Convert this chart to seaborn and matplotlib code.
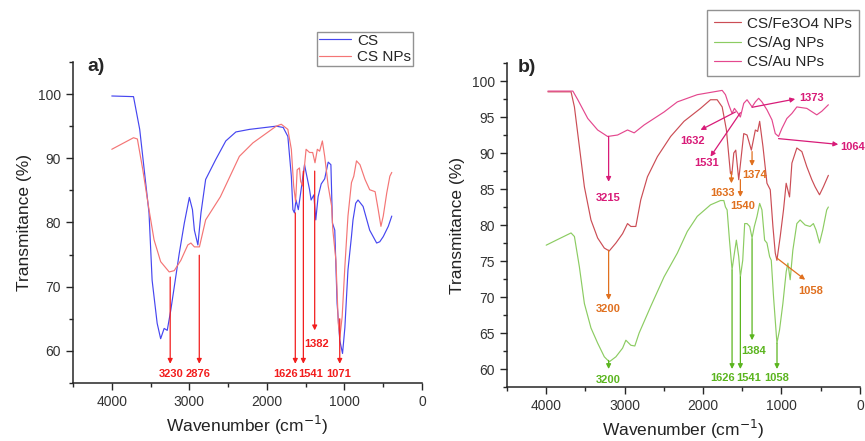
import numpy as np
import pandas as pd
import seaborn as sns
import matplotlib.pyplot as plt
from matplotlib.ticker import MultipleLocator

sns.set_style('ticks')
plt.rcParams['font.family'] = ['Liberation Sans', 'DejaVu Sans']

# ---- panel a data (wavenumber cm-1, transmittance %) ----
cs_wn = [4000, 3720, 3640, 3520, 3480, 3415, 3370, 3325, 3285, 3240, 3130, 3065, 3000, 2960,
         2935, 2890, 2850, 2790, 2660, 2530, 2400, 2225, 1880, 1790, 1730, 1685, 1665, 1645,
         1625, 1595, 1565, 1515, 1485, 1450, 1430, 1395, 1370, 1340, 1300, 1255, 1210, 1175,
         1155, 1125, 1095, 1060, 1025, 995, 955, 910, 890, 855, 825, 760, 675, 585, 545, 500,
         435, 390]
cs_t = [99.7, 99.6, 94.5, 81.5, 71.0, 64.3, 61.9, 63.5, 63.2, 66.3, 75.2, 79.9, 83.9, 82.0,
        78.8, 76.5, 81.5, 86.7, 89.8, 92.7, 94.1, 94.5, 95.0, 94.8, 93.4, 87.2, 82.0, 81.5,
        83.5, 82.0, 84.6, 89.0, 87.2, 85.1, 83.5, 84.3, 80.4, 84.0, 86.0, 86.8, 89.4, 89.0,
        79.9, 78.8, 67.4, 61.6, 59.6, 63.6, 72.6, 77.8, 80.4, 83.0, 83.5, 82.5, 78.8, 76.8,
        77.0, 77.8, 79.4, 81.0]

csnp_wn = [4000, 3720, 3670, 3600, 3520, 3455, 3370, 3260, 3195, 3110, 3020, 2980, 2935, 2870,
           2790, 2600, 2355, 2180, 1880, 1815, 1730, 1685, 1655, 1630, 1610, 1580, 1565, 1540,
           1495, 1450, 1410, 1380, 1350, 1320, 1285, 1255, 1210, 1165, 1150, 1110, 1080, 1060,
           1030, 995, 955, 910, 880, 845, 800, 735, 675, 605, 565, 530, 500, 455, 415, 390]
csnp_t = [91.4, 93.2, 93.0, 88.2, 82.0, 77.3, 73.9, 72.3, 72.5, 74.1, 76.5, 76.8, 76.2, 76.2,
          80.4, 84.0, 90.3, 92.4, 95.0, 95.3, 94.5, 91.4, 85.7, 83.2, 88.2, 88.5, 86.4, 85.7,
          91.4, 90.9, 90.9, 89.3, 91.4, 91.1, 92.7, 90.3, 85.7, 82.5, 78.8, 74.1, 64.3, 62.1,
          65.3, 73.1, 81.0, 86.2, 87.2, 89.6, 89.0, 86.7, 85.1, 84.8, 82.0, 79.4, 81.0, 84.6,
          87.2, 87.8]

# ---- panel b data ----
fe_wn = [3978, 3683, 3640, 3577, 3513, 3429, 3344, 3259, 3196, 3111, 3026, 2963, 2920, 2857,
         2794, 2709, 2582, 2413, 2243, 2032, 1905, 1820, 1756, 1702, 1651, 1633, 1608, 1583,
         1545, 1481, 1439, 1384, 1333, 1304, 1278, 1236, 1185, 1143, 1109, 1079, 1058, 1016,
         974, 940, 897, 867, 804, 740, 677, 613, 571, 515, 466, 402]
fe_t = [98.5, 98.5, 96.4, 90.9, 85.3, 80.7, 78.2, 76.8, 76.4, 77.5, 78.8, 80.2, 79.8, 79.8,
        83.5, 86.7, 89.5, 92.3, 94.4, 96.2, 97.4, 97.4, 96.4, 93.2, 87.2, 87.0, 90.0, 90.4,
        86.3, 92.7, 92.5, 90.4, 93.2, 93.0, 94.4, 90.9, 85.8, 84.9, 79.8, 76.1, 75.1, 78.4,
        82.1, 85.8, 83.9, 88.6, 90.7, 90.2, 88.1, 86.3, 85.3, 84.2, 85.3, 86.9]

ag_wn = [4000, 3852, 3683, 3640, 3577, 3513, 3429, 3344, 3259, 3196, 3111, 3026, 2984, 2920,
         2870, 2815, 2667, 2497, 2328, 2201, 2074, 1905, 1778, 1735, 1714, 1693, 1663, 1630,
         1600, 1575, 1545, 1524, 1494, 1469, 1439, 1405, 1375, 1346, 1312, 1278, 1249, 1215,
         1185, 1151, 1130, 1101, 1058, 1025, 982, 940, 918, 889, 855, 804, 762, 698, 635, 593,
         559, 515, 474, 423, 402]
ag_t = [77.2, 78.0, 78.9, 78.4, 74.2, 69.1, 65.7, 63.6, 61.7, 61.0, 61.7, 62.9, 64.0, 63.3,
        63.2, 65.0, 68.7, 72.8, 76.1, 79.1, 81.2, 82.8, 83.4, 83.4, 82.5, 82.1, 77.9, 73.8,
        76.1, 77.9, 75.6, 72.8, 75.1, 80.2, 80.2, 79.8, 78.2, 79.8, 81.2, 83.0, 82.1, 77.9,
        77.5, 75.6, 75.1, 70.0, 63.6, 65.4, 69.1, 73.5, 74.7, 72.4, 76.5, 80.2, 80.7, 80.0,
        79.8, 80.2, 79.3, 77.5, 79.3, 82.1, 82.5]

au_wn = [3978, 3660, 3597, 3470, 3344, 3217, 3090, 2963, 2878, 2751, 2497, 2328, 2074, 1756,
         1714, 1672, 1630, 1600, 1566, 1524, 1481, 1439, 1375, 1333, 1291, 1249, 1185, 1121,
         1079, 1037, 995, 931, 867, 804, 677, 550, 486, 402]
au_t = [98.6, 98.6, 97.4, 94.8, 93.2, 92.3, 92.5, 93.2, 92.8, 93.9, 95.7, 97.1, 98.1, 98.7,
        98.1, 96.7, 95.5, 96.2, 95.7, 95.0, 96.9, 97.4, 96.4, 97.1, 97.6, 97.1, 96.0, 94.6,
        92.7, 92.3, 93.4, 94.8, 95.5, 96.4, 96.2, 95.3, 95.8, 96.7]

samples_a = ['CS', 'CS NPs']
samples_b = ['CS/Fe3O4 NPs', 'CS/Ag NPs', 'CS/Au NPs']
colors = {'CS': '#4646f0', 'CS NPs': '#f47575',
          'CS/Fe3O4 NPs': '#cb4d55', 'CS/Ag NPs': '#8ccc62', 'CS/Au NPs': '#e4488e'}

df_a = pd.concat([
    pd.DataFrame({'wn': cs_wn, 't': cs_t, 'sample': 'CS'}),
    pd.DataFrame({'wn': csnp_wn, 't': csnp_t, 'sample': 'CS NPs'}),
])
df_b = pd.concat([
    pd.DataFrame({'wn': fe_wn, 't': fe_t, 'sample': 'CS/Fe3O4 NPs'}),
    pd.DataFrame({'wn': ag_wn, 't': ag_t, 'sample': 'CS/Ag NPs'}),
    pd.DataFrame({'wn': au_wn, 't': au_t, 'sample': 'CS/Au NPs'}),
])

fig = plt.figure(figsize=(8.65, 4.41), dpi=100)
ax_a = fig.add_axes([0.0844, 0.1315, 0.4035, 0.728])
ax_b = fig.add_axes([0.5861, 0.1224, 0.408, 0.7347])

legend_items = {}
for ax, df, order in [(ax_a, df_a, samples_a), (ax_b, df_b, samples_b)]:
    sns.lineplot(data=df, x='wn', y='t', hue='sample', hue_order=order, palette=colors,
                 sort=False, estimator=None, lw=0.85, ax=ax)
    ax.set_xlim(4500, 0)
    ax.xaxis.set_major_locator(MultipleLocator(1000))
    ax.xaxis.set_minor_locator(MultipleLocator(500))
    ax.set_xlabel('Wavenumber (cm$^{-1}$)', fontsize=12.5, color='#222222')
    ax.set_ylabel('Transmitance (%)', fontsize=12.5, color='#222222')
    ax.tick_params(which='major', direction='out', length=5, width=1, labelsize=10,
                   labelcolor='#333333')
    ax.tick_params(which='minor', direction='out', length=3, width=1)
    for s in ['top', 'right']:
        ax.spines[s].set_visible(False)
    for s in ['left', 'bottom']:
        ax.spines[s].set_linewidth(1.1)
    legend_items[ax] = ax.get_legend_handles_labels()
    ax.get_legend().remove()

ax_a.set_ylim(55, 105)
ax_a.set_yticks([60, 70, 80, 90, 100])
ax_a.yaxis.set_minor_locator(MultipleLocator(5))
ax_b.set_ylim(57.5, 102.5)
ax_b.set_yticks([60, 65, 70, 75, 80, 85, 90, 95, 100])
ax_b.yaxis.set_minor_locator(MultipleLocator(2.5))
ax_a.yaxis.set_label_coords(-0.118, 0.5)
ax_b.yaxis.set_label_coords(-0.119, 0.5)

h, l = legend_items[ax_a]
ax_a.legend(h, l, loc='upper right', bbox_to_anchor=(0.477, 0.927), bbox_transform=fig.transFigure,
            fontsize=11, frameon=True, fancybox=False, edgecolor='#777777', handlelength=2.1,
            borderpad=0.1, labelspacing=0.15, handletextpad=0.4, borderaxespad=0)
h, l = legend_items[ax_b]
ax_b.legend(h, l, loc='upper right', bbox_to_anchor=(0.993, 0.978), bbox_transform=fig.transFigure,
            fontsize=11, frameon=True, fancybox=False, edgecolor='#777777', handlelength=1.75,
            borderpad=0.45, labelspacing=0.35, handletextpad=0.4, borderaxespad=0)

ax_a.text(0.04, 0.985, 'a)', transform=ax_a.transAxes, fontsize=14, fontweight='bold', va='center')
ax_b.text(0.031, 0.985, 'b)', transform=ax_b.transAxes, fontsize=14, fontweight='bold', va='center')


def mark(ax, start, end, label, pos, color):
    ax.annotate('', xy=end, xytext=start,
                arrowprops=dict(arrowstyle='-|>', color=color, lw=0.9, mutation_scale=7,
                                shrinkA=0, shrinkB=0))
    ax.text(pos[0], pos[1], label, color=color, fontsize=8, fontweight='bold',
            ha='center', va='center')


red = '#f21d1d'
mark(ax_a, (3247, 71.5), (3247, 58.0), '3230', (3238, 56.4), red)
mark(ax_a, (2872, 74.9), (2872, 58.0), '2876', (2885, 56.4), red)
mark(ax_a, (1634, 81.5), (1634, 58.0), '1626', (1763, 56.4), red)
mark(ax_a, (1530, 88.0), (1530, 58.0), '1541', (1440, 56.4), red)
mark(ax_a, (1384, 88.0), (1384, 63.2), '1382', (1362, 61.1), red)
mark(ax_a, (1061, 65.0), (1061, 58.0), '1071', (1070, 56.4), red)

pink = '#d81b78'
orange = '#e0701f'
green = '#5bb51f'
mark(ax_b, (3204, 92.3), (3204, 86.0), '3215', (3204, 83.7), pink)
mark(ax_b, (1587, 95.7), (2032, 93.2), '1632', (2137, 91.7), pink)
mark(ax_b, (1524, 95.6), (1905, 89.5), '1531', (1956, 88.6), pink)
mark(ax_b, (1375, 96.35), (825, 97.5), '1373', (612, 97.7), pink)
mark(ax_b, (1037, 92.0), (276, 91.2), '1064', (97, 90.9), pink)

mark(ax_b, (1638, 87.4), (1638, 85.8), '1633', (1749, 84.4), orange)
mark(ax_b, (1524, 86.3), (1524, 83.9), '1540', (1495, 82.7), orange)
mark(ax_b, (1375, 90.2), (1375, 88.2), '1374', (1346, 86.9), orange)
mark(ax_b, (3204, 76.5), (3204, 69.6), '3200', (3204, 68.4), orange)
mark(ax_b, (1057, 75.4), (698, 72.4), '1058', (622, 70.9), orange)

mark(ax_b, (3204, 61.2), (3204, 60.0), '3200', (3204, 58.5), green)
mark(ax_b, (1630, 73.75), (1630, 60.0), '1626', (1749, 58.7), green)
mark(ax_b, (1524, 72.8), (1524, 60.0), '1541', (1418, 58.7), green)
mark(ax_b, (1375, 78.1), (1375, 64.0), '1384', (1359, 62.5), green)
mark(ax_b, (1057, 63.6), (1057, 60.0), '1058', (1057, 58.7), green)

fig.savefig('out.png', dpi=100)
